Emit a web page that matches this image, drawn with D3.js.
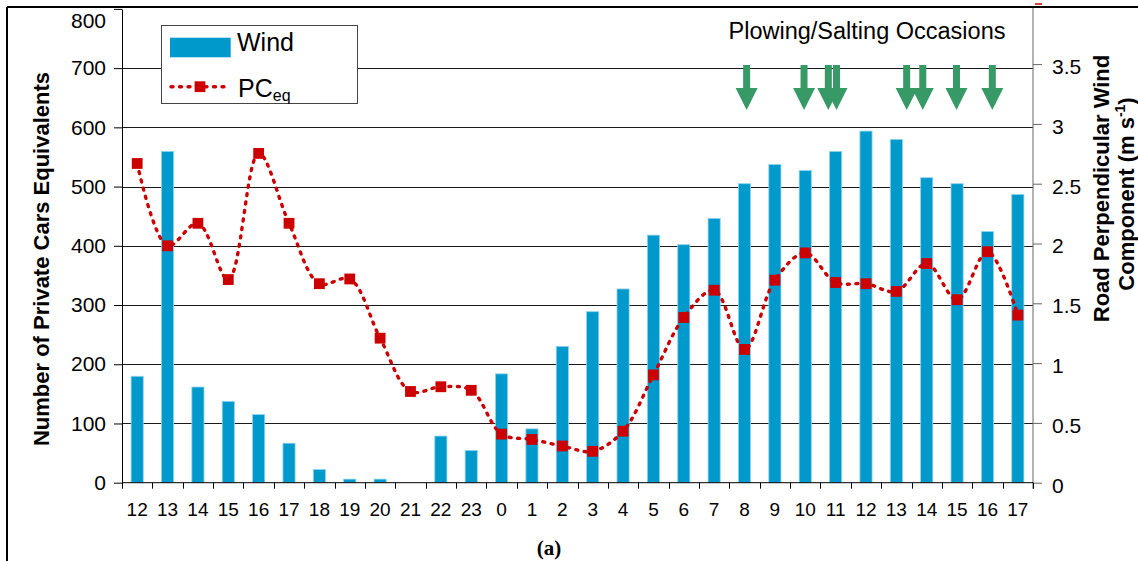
<!DOCTYPE html>
<html><head><meta charset="utf-8">
<script src="https://cdn.jsdelivr.net/npm/d3@7"></script>
<style>
body{margin:0;background:#fff}
svg{display:block}
text{font-family:"Liberation Sans",Arial,Helvetica,sans-serif;fill:#000}
</style>
</head><body>
<svg id="c" width="1138" height="561"></svg>
<script>
// ---------------- data ----------------
const hours = ["12","13","14","15","16","17","18","19","20","21","22","23","0","1","2","3","4","5","6","7","8","9","10","11","12","13","14","15","16","17"];
const windComponent = [0.89,2.77,0.80,0.68,0.57,0.33,0.11,0.03,0.03,0,0.39,0.27,0.91,0.45,1.14,1.43,1.62,2.07,1.99,2.21,2.50,2.66,2.61,2.77,2.94,2.87,2.55,2.50,2.10,2.41];
const pcEq = [539,400,438,343,556,438,336,344,244,154,162,156,82,73,62,53,87,182,279,325,225,342,388,338,336,323,370,309,390,283];
const leftTicks = [0,100,200,300,400,500,600,700,800];
const rightTicks = [0,0.5,1,1.5,2,2.5,3,3.5];
// plowing/salting occasions, in hours counted from the first 12:00
const plowingTimes = [20.07,21.96,22.76,23.03,25.34,25.87,26.98,28.16];

// ---------------- layout ----------------
const svg = d3.select("#c");
const X0 = 122, X1 = 1033, Y0 = 482.7;
const idx = hours.map((d,i)=>i);

const xBand = d3.scaleBand().domain(idx).range([X0,X1]).paddingInner(0.6).paddingOuter(0.3);
const xLin = d3.scaleLinear().domain([-0.5, hours.length-0.5]).range([X0,X1]);
const yL = d3.scaleLinear().domain([0,800]).range([Y0, 8.9]);
const yR = d3.scaleLinear().domain([0,4]).range([Y0, 4.3]);
const cx = i => xBand(i) + xBand.bandwidth()/2;

// frame
svg.append("line").attr("x1",7).attr("x2",1138).attr("y1",7).attr("y2",7).attr("stroke","#000").attr("stroke-width",2);
svg.append("line").attr("x1",7).attr("x2",7).attr("y1",7).attr("y2",561).attr("stroke","#000").attr("stroke-width",2);
svg.append("line").attr("x1",1035).attr("x2",1042).attr("y1",4).attr("y2",4).attr("stroke","#cc0000").attr("stroke-width",1.5);

// gridlines
svg.append("g").selectAll("line").data(leftTicks.filter(t=>t>0 && t<800)).join("line")
  .attr("x1",X0).attr("x2",X1).attr("y1",d=>Math.round(yL(d))+0.5).attr("y2",d=>Math.round(yL(d))+0.5)
  .attr("stroke","#1a1a1a").attr("stroke-width",1);

// bars (Wind, right axis)
svg.append("g").selectAll("rect").data(windComponent).join("rect")
  .attr("x",(d,i)=>xBand(i)).attr("width",xBand.bandwidth())
  .attr("y",d=>yR(d)).attr("height",d=>Y0-yR(d))
  .attr("fill","#0099cc").attr("stroke","#8fd4ee").attr("stroke-width",0.8);

// PCeq line (left axis)
const line = d3.line().x((d,i)=>cx(i)).y(d=>yL(d)).curve(d3.curveCatmullRom.alpha(0.5));
svg.append("path").datum(pcEq).attr("d",line).attr("fill","none")
  .attr("stroke","#cc0000").attr("stroke-width",3.4).attr("stroke-dasharray","2,6.5").attr("stroke-linecap","round");
svg.append("g").selectAll("rect").data(pcEq).join("rect")
  .attr("x",(d,i)=>cx(i)-5.4).attr("y",d=>yL(d)-5.4).attr("width",10.8).attr("height",10.8)
  .attr("fill","#cc0000");

// left axis
const gL = svg.append("g").attr("transform",`translate(${X0},0)`)
  .call(d3.axisLeft(yL).tickValues(leftTicks).tickSize(8).tickSizeOuter(0).tickPadding(8));
gL.select(".domain").attr("stroke","#000");
gL.selectAll(".tick line").attr("stroke","#000");
gL.selectAll(".tick text").attr("font-size",21).attr("fill","#000");
gL.selectAll(".tick").filter(d=>d===800).select("text").attr("dy","0.9em");

// right axis
const gR = svg.append("g").attr("transform",`translate(${X1},0)`)
  .call(d3.axisRight(yR).tickValues(rightTicks).tickSize(9).tickSizeOuter(0).tickPadding(10).tickFormat(d3.format("~g")));
gR.select(".domain").remove();
gR.append("line").attr("x1",0).attr("x2",0).attr("y1",8).attr("y2",489).attr("stroke","#666");
gR.selectAll(".tick line").attr("stroke","#666");
gR.selectAll(".tick text").attr("font-size",21).attr("dy","0.45em").attr("fill","#000");

// bottom axis
svg.append("line").attr("x1",X0).attr("x2",X1).attr("y1",Y0).attr("y2",Y0).attr("stroke","#000");
svg.append("g").selectAll("line").data(d3.range(hours.length+1)).join("line")
  .attr("x1",d=>Math.round(xLin(d-0.5))+0.5).attr("x2",d=>Math.round(xLin(d-0.5))+0.5)
  .attr("y1",Y0).attr("y2",Y0+6).attr("stroke","#000");
const gB = svg.append("g").attr("transform",`translate(0,${Y0})`)
  .call(d3.axisBottom(xBand).tickSize(0).tickPadding(20).tickFormat(i=>hours[i]));
gB.select(".domain").remove();
gB.selectAll(".tick text").attr("font-size",19).attr("fill","#000");

// axis titles
svg.append("text").attr("transform","translate(49,259) rotate(-90)").attr("text-anchor","middle")
  .attr("font-size",22).attr("font-weight","bold").text("Number of Private Cars Equivalents");
svg.append("text").attr("transform","translate(1109,188.5) rotate(-90)").attr("text-anchor","middle")
  .attr("font-size",22).attr("font-weight","bold").text("Road Perpendicular Wind");
const t2 = svg.append("text").attr("transform","translate(1134,194) rotate(-90)").attr("text-anchor","middle")
  .attr("font-size",22).attr("font-weight","bold");
t2.append("tspan").text("Component (m s");
t2.append("tspan").attr("font-size",14).attr("dy",-9).text("-1");
t2.append("tspan").attr("dy",9).text(")");

// legend
const lg = svg.append("g");
lg.append("rect").attr("x",161.5).attr("y",25.5).attr("width",196).attr("height",78).attr("fill","#fff").attr("stroke","#444").attr("stroke-width",1);
lg.append("rect").attr("x",170).attr("y",37.7).attr("width",60.7).attr("height",19.6).attr("fill","#0099cc");
lg.append("text").attr("x",237).attr("y",50.7).attr("font-size",25).text("Wind");
lg.append("line").attr("x1",171).attr("x2",230).attr("y1",86.7).attr("y2",86.7)
  .attr("stroke","#cc0000").attr("stroke-width",3.4).attr("stroke-dasharray","2,6.5").attr("stroke-linecap","round");
lg.append("rect").attr("x",194.6).attr("y",81.3).attr("width",10.8).attr("height",10.8).attr("fill","#cc0000");
const lt = lg.append("text").attr("x",238).attr("y",96.7).attr("font-size",25);
lt.append("tspan").text("PC");
lt.append("tspan").attr("font-size",16).attr("dy",4).text("eq");

// plowing/salting occasions
svg.append("text").attr("x",867).attr("y",39).attr("text-anchor","middle").attr("font-size",23.5).text("Plowing/Salting Occasions");
const ag = svg.append("g").selectAll("g").data(plowingTimes).join("g")
  .attr("transform",d=>`translate(${xLin(d)},0)`);
ag.append("rect").attr("x",-3.5).attr("y",65).attr("width",7).attr("height",25).attr("fill","#379a66");
ag.append("path").attr("d","M-11,88L11,88L0,110Z").attr("fill","#379a66");

// panel label
svg.append("text").attr("x",549).attr("y",555).attr("text-anchor","middle")
  .style("font-family","'Liberation Serif','Times New Roman',serif").attr("font-weight","bold").attr("font-size",21).text("(a)");
</script>
</body></html>
